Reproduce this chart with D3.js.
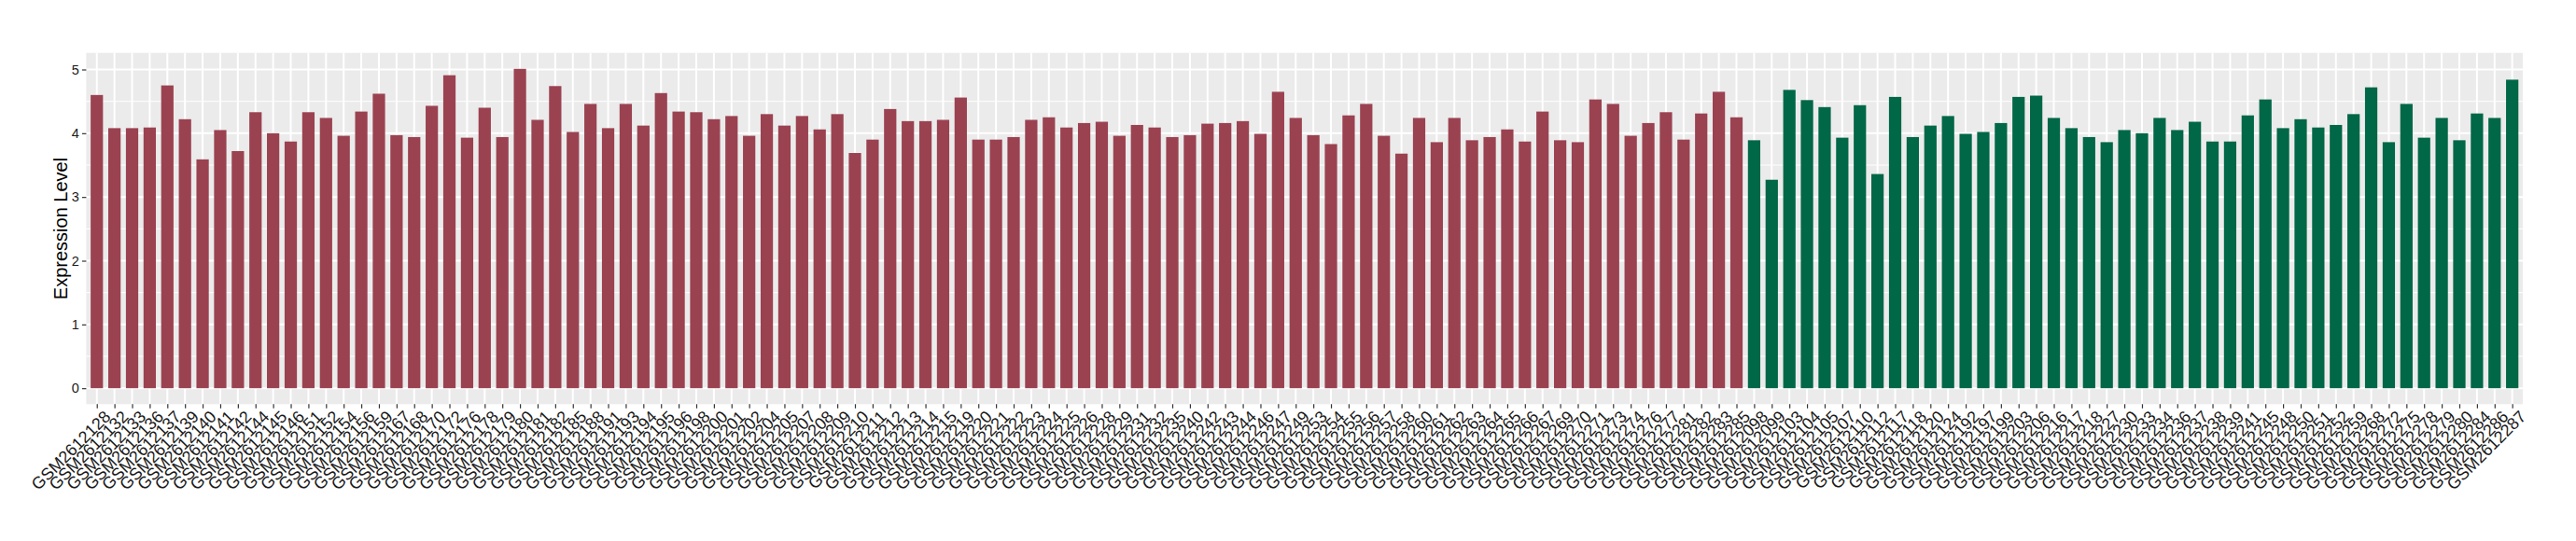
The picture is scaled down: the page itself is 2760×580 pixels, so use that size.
<!DOCTYPE html>
<html><head><meta charset="utf-8">
<script src="https://cdn.jsdelivr.net/npm/d3@7"></script>
<style>body{margin:0;background:#fff}svg{display:block}</style>
</head><body>
<svg id="c" width="2760" height="580"></svg>
<script>
const groupASamples = ["GSM2612128","GSM2612132","GSM2612133","GSM2612136","GSM2612137","GSM2612139","GSM2612140","GSM2612141","GSM2612142","GSM2612144","GSM2612145","GSM2612146","GSM2612151","GSM2612152","GSM2612154","GSM2612156","GSM2612159","GSM2612167","GSM2612168","GSM2612170","GSM2612172","GSM2612176","GSM2612178","GSM2612179","GSM2612180","GSM2612181","GSM2612182","GSM2612185","GSM2612188","GSM2612191","GSM2612193","GSM2612194","GSM2612195","GSM2612196","GSM2612198","GSM2612200","GSM2612201","GSM2612202","GSM2612204","GSM2612205","GSM2612207","GSM2612208","GSM2612209","GSM2612210","GSM2612211","GSM2612212","GSM2612213","GSM2612214","GSM2612215","GSM2612219","GSM2612220","GSM2612221","GSM2612222","GSM2612223","GSM2612224","GSM2612225","GSM2612226","GSM2612228","GSM2612229","GSM2612231","GSM2612232","GSM2612235","GSM2612240","GSM2612242","GSM2612243","GSM2612244","GSM2612246","GSM2612247","GSM2612249","GSM2612253","GSM2612254","GSM2612255","GSM2612256","GSM2612257","GSM2612258","GSM2612260","GSM2612261","GSM2612262","GSM2612263","GSM2612264","GSM2612265","GSM2612266","GSM2612267","GSM2612269","GSM2612270","GSM2612271","GSM2612273","GSM2612274","GSM2612276","GSM2612277","GSM2612281","GSM2612282","GSM2612283","GSM2612285"];
const groupAValues = [4.60,4.08,4.08,4.09,4.75,4.22,3.59,4.05,3.72,4.33,4.00,3.87,4.33,4.24,3.96,4.34,4.62,3.97,3.94,4.43,4.91,3.93,4.40,3.94,5.01,4.21,4.74,4.02,4.46,4.08,4.46,4.12,4.63,4.34,4.33,4.22,4.27,3.96,4.30,4.12,4.27,4.06,4.30,3.69,3.90,4.38,4.19,4.19,4.21,4.56,3.90,3.90,3.94,4.21,4.25,4.09,4.16,4.18,3.96,4.13,4.09,3.94,3.97,4.15,4.16,4.19,3.99,4.65,4.24,3.97,3.83,4.28,4.46,3.96,3.68,4.24,3.86,4.24,3.89,3.94,4.06,3.87,4.34,3.89,3.86,4.53,4.46,3.96,4.16,4.33,3.90,4.31,4.65,4.25];
const groupBSamples = ["GSM2612098","GSM2612099","GSM2612103","GSM2612104","GSM2612105","GSM2612107","GSM2612110","GSM2612112","GSM2612117","GSM2612118","GSM2612120","GSM2612124","GSM2612192","GSM2612197","GSM2612199","GSM2612203","GSM2612206","GSM2612216","GSM2612217","GSM2612218","GSM2612227","GSM2612230","GSM2612233","GSM2612234","GSM2612236","GSM2612237","GSM2612238","GSM2612239","GSM2612241","GSM2612245","GSM2612248","GSM2612250","GSM2612251","GSM2612252","GSM2612259","GSM2612268","GSM2612272","GSM2612275","GSM2612278","GSM2612279","GSM2612280","GSM2612284","GSM2612286","GSM2612287"];
const groupBValues = [3.89,3.27,4.68,4.52,4.41,3.93,4.44,3.36,4.57,3.94,4.12,4.27,3.99,4.02,4.16,4.57,4.59,4.24,4.08,3.94,3.86,4.05,4.00,4.24,4.05,4.18,3.87,3.87,4.28,4.53,4.08,4.22,4.09,4.13,4.30,4.72,3.86,4.46,3.93,4.24,3.89,4.31,4.24,4.84];
const yTicks = [0,1,2,3,4,5];
const yMinor = [0.5,1.5,2.5,3.5,4.5];
const groupColors = {A:"#9b4251", B:"#006747"};
const yTitle = "Expression Level";

const data = groupASamples.map((s,i)=>({id:s,v:groupAValues[i],g:"A"}))
  .concat(groupBSamples.map((s,i)=>({id:s,v:groupBValues[i],g:"B"})));

const L=92.4, R=2703, T=56.7, B=433.3;
const svg = d3.select("#c");
const maxV = d3.max(data,d=>d.v);
const x = d3.scalePoint().domain(data.map(d=>d.id)).range([L,R]).padding(0.6);
const y = d3.scaleLinear().domain([-0.05*maxV, 1.05*maxV]).range([B,T]);
const bw = x.step()*0.7;
const FONT = "Liberation Sans, Arial, sans-serif";

svg.append("rect").attr("x",L).attr("y",T).attr("width",R-L).attr("height",B-T).attr("fill","#ebebeb");
svg.append("g").selectAll("line").data(yMinor).join("line")
  .attr("x1",L).attr("x2",R).attr("y1",d=>y(d)).attr("y2",d=>y(d))
  .attr("stroke","#fff").attr("stroke-width",1);
svg.append("g").selectAll("line").data(yTicks).join("line")
  .attr("x1",L).attr("x2",R).attr("y1",d=>y(d)).attr("y2",d=>y(d))
  .attr("stroke","#fff").attr("stroke-width",2);
svg.append("g").selectAll("line").data(data).join("line")
  .attr("x1",d=>x(d.id)).attr("x2",d=>x(d.id)).attr("y1",T).attr("y2",B)
  .attr("stroke","#fff").attr("stroke-width",2);

svg.append("g").selectAll("rect").data(data).join("rect")
  .attr("x",d=>x(d.id)-bw/2).attr("width",bw)
  .attr("y",d=>y(d.v)).attr("height",d=>y(0)-y(d.v))
  .attr("fill",d=>groupColors[d.g]);

// y axis
const ya = svg.append("g").attr("transform",`translate(${L},0)`)
  .call(d3.axisLeft(y).tickValues(yTicks).tickSize(4.5).tickPadding(3).tickFormat(d3.format("d")));
ya.select(".domain").remove();
ya.selectAll(".tick line").attr("stroke","#333").attr("stroke-width",1.2);
ya.selectAll(".tick text").attr("fill","#1a1a1a").attr("font-family",FONT).attr("font-size",14.5);

// x axis
const xa = svg.append("g").attr("transform",`translate(0,${B})`)
  .call(d3.axisBottom(x).tickSize(4.5).tickPadding(0));
xa.select(".domain").remove();
xa.selectAll(".tick line").attr("stroke","#333").attr("stroke-width",1.2);
xa.selectAll(".tick text")
  .attr("fill","#1a1a1a").attr("font-family",FONT).attr("font-size",18)
  .attr("text-anchor","end").attr("dy",null).attr("y",0)
  .attr("transform","translate(6.3,5.5) rotate(-45)")
  .attr("dominant-baseline","hanging");

svg.append("text").attr("transform",`translate(72,${(T+B)/2}) rotate(-90)`)
  .attr("text-anchor","middle").attr("font-family",FONT)
  .attr("font-size",20).attr("fill","#000").text(yTitle);
</script>
</body></html>
